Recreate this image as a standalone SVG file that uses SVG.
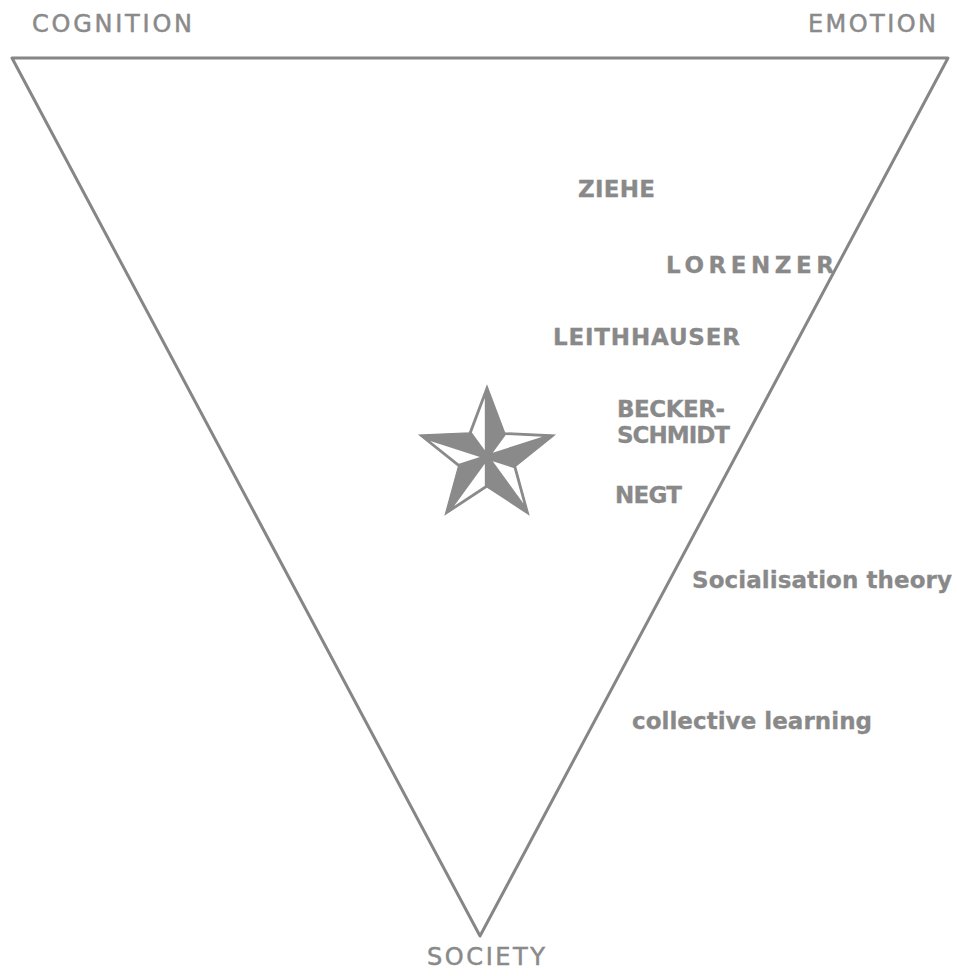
<svg xmlns="http://www.w3.org/2000/svg" xmlns:xlink="http://www.w3.org/1999/xlink" width="957" height="976" viewBox="0 0 957 976">
  <style>
    .edge { fill: none; stroke: #868686; stroke-width: 3; stroke-linejoin: round; stroke-linecap: round; }
    .corner { font-family: "DejaVu Sans", Verdana, sans-serif; font-size: 24px; fill: #8a8a8a; stroke: #8a8a8a; stroke-width: 0.5; }
    .name { font-family: "DejaVu Sans", Verdana, sans-serif; font-size: 23px; font-weight: bold; fill: #898989; stroke: #898989; stroke-width: 0.3; }
    .star-body { fill: #8a8a8a; stroke: #8a8a8a; stroke-width: 1.2; stroke-linejoin: miter; }
    .star-light { fill: #ffffff; }
  </style>
  <defs>
    <polygon id="lightHalf" class="star-light" points="484.80,450.23 484.80,398.06 471.85,432.40"/>
  </defs>
  <rect width="957" height="976" fill="#ffffff"/>

  <g id="connectors">
    <polygon id="triangle" class="edge" points="12,58 948,58 480,936"/>
  </g>

  <g id="star">
    <polygon class="star-body" points="487,386 504.63,432.73 554.52,435.06 515.53,466.27 528.73,514.44 487,487 445.27,514.44 458.47,466.27 419.48,435.06 469.37,432.73"/>
    <use xlink:href="#lightHalf"/>
    <use xlink:href="#lightHalf" transform="rotate(72 487 457)"/>
    <use xlink:href="#lightHalf" transform="rotate(144 487 457)"/>
    <use xlink:href="#lightHalf" transform="rotate(216 487 457)"/>
    <use xlink:href="#lightHalf" transform="rotate(288 487 457)"/>
  </g>

  <g id="cognition"><text class="corner" x="32" y="32" textLength="160" lengthAdjust="spacing">COGNITION</text></g>
  <g id="emotion"><text class="corner" x="808" y="32" textLength="128" lengthAdjust="spacing">EMOTION</text></g>
  <g id="society"><text class="corner" x="427" y="965" textLength="118" lengthAdjust="spacing">SOCIETY</text></g>

  <g id="ziehe"><text class="name" x="578" y="197" textLength="77" lengthAdjust="spacing">ZIEHE</text></g>
  <g id="lorenzer"><text class="name" x="666" y="273" textLength="168" lengthAdjust="spacing">LORENZER</text></g>
  <g id="leithhauser"><text class="name" x="553" y="345" textLength="187" lengthAdjust="spacing">LEITHHAUSER</text></g>
  <g id="becker-schmidt">
    <text class="name" x="617" y="417" textLength="108" lengthAdjust="spacing">BECKER-</text>
    <text class="name" x="617" y="443" textLength="113" lengthAdjust="spacing">SCHMIDT</text>
  </g>
  <g id="negt"><text class="name" x="615" y="503" textLength="67" lengthAdjust="spacing">NEGT</text></g>
  <g id="socialisation-theory"><text class="name" x="692" y="588" textLength="260" lengthAdjust="spacing">Socialisation theory</text></g>
  <g id="collective-learning"><text class="name" x="632" y="729" textLength="240" lengthAdjust="spacing">collective learning</text></g>
</svg>
